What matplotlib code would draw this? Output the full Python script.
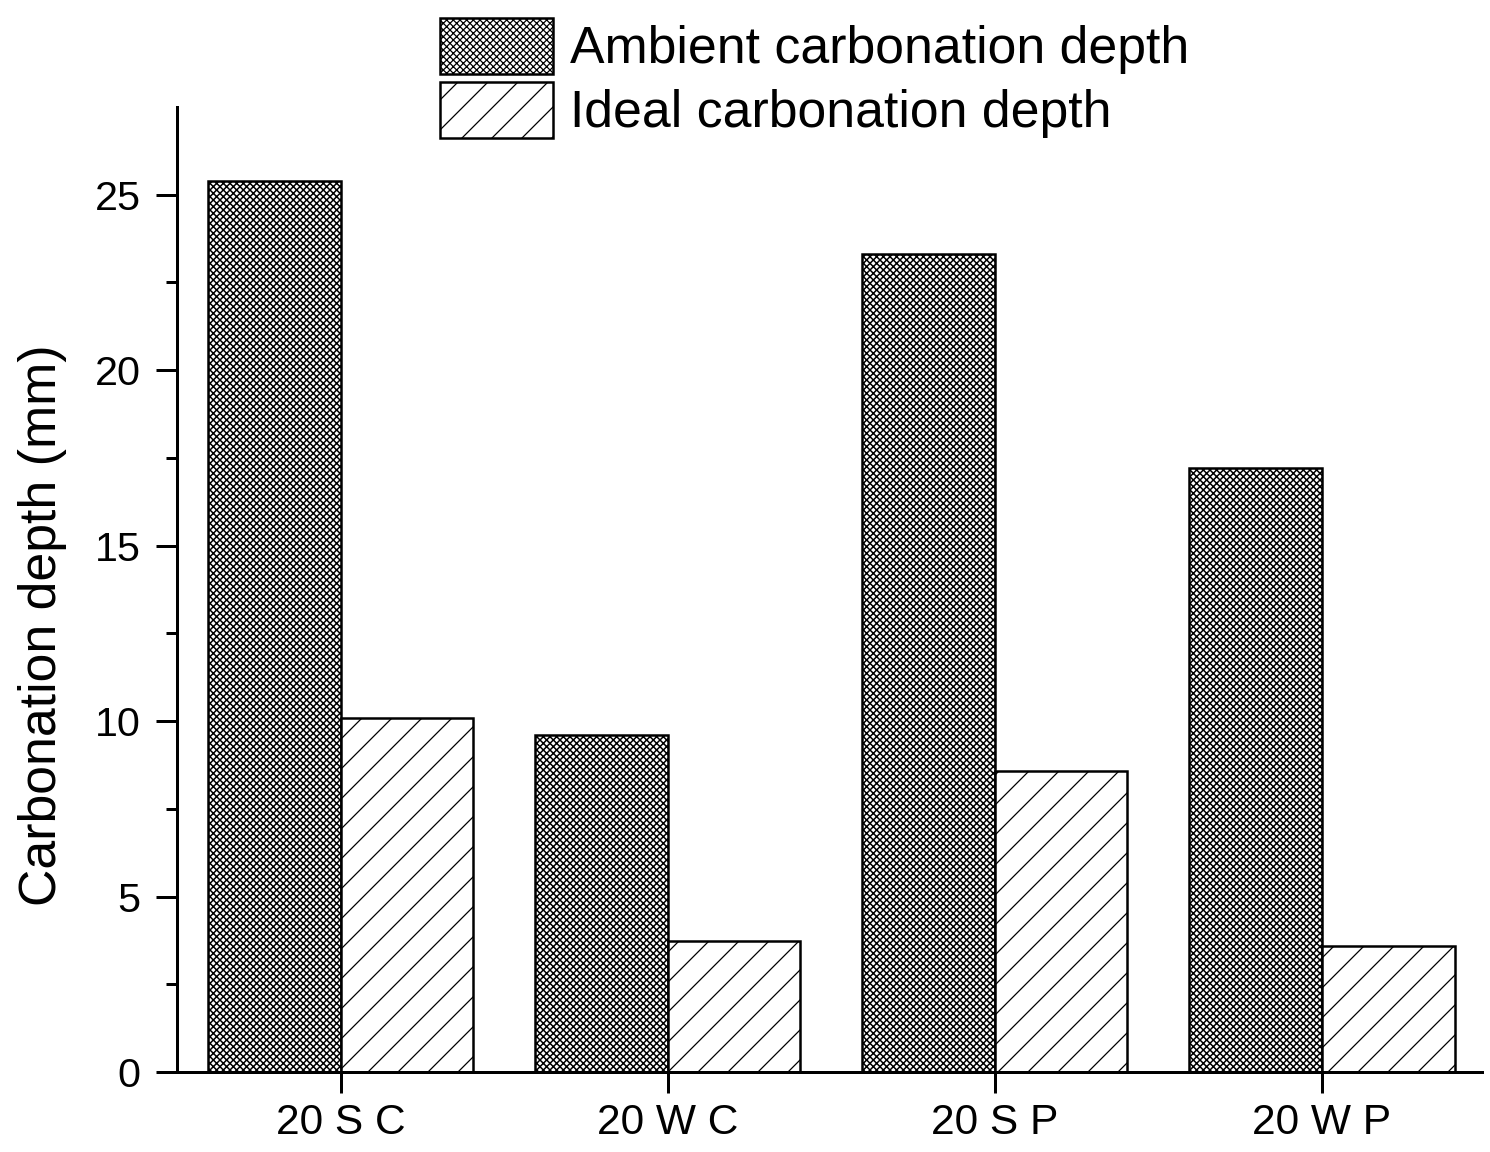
import numpy as np
from matplotlib import pyplot as plt

# data
groups = ["20 S C", "20 W C", "20 S P", "20 W P"]
ambient = [25.4, 9.6, 23.3, 17.2]
ideal = [10.1, 3.73, 8.57, 3.59]
yticks = [0, 5, 10, 15, 20, 25]

plt.rcParams['font.family'] = ['Liberation Sans', 'DejaVu Sans']
plt.rcParams['hatch.color'] = 'black'

# dpi 180 so the hatch tile is coarse enough for the '//' pattern
dpi = 180
fig = plt.figure(figsize=(1490 / dpi, 1152 / dpi), dpi=dpi)
ax = fig.add_axes([177 / 1490, 1 - 1072 / 1152, 1305 / 1490, 965 / 1152])

x = np.arange(len(groups))
w = 0.406
plt.rcParams['hatch.linewidth'] = 0.6
ax.bar(x - w / 2, ambient, w, facecolor='white', edgecolor='black', linewidth=1.0,
       hatch='x' * 9, label='Ambient carbonation depth')
plt.rcParams['hatch.linewidth'] = 0.5
ax.bar(x + w / 2, ideal, w, facecolor='white', edgecolor='black', linewidth=1.0,
       hatch='//', label='Ideal carbonation depth')

ax.set_xlim(-0.5, 3.49)
ax.set_ylim(0, 27.5)
ax.set_xticks(x)
ax.set_xticklabels(groups, fontsize=17)
ax.set_yticks(yticks)
ax.set_yticklabels([str(v) for v in yticks], fontsize=16.5)
ax.set_yticks(np.arange(2.5, 27.5, 5), minor=True)
ax.tick_params(axis='both', which='major', direction='out', length=8.5, width=1.2, pad=4)
ax.tick_params(axis='y', which='major', pad=6)
ax.tick_params(axis='y', which='minor', direction='out', length=4.3, width=1.2)
ax.set_ylabel("Carbonation depth (mm)", fontsize=20.7)
ax.yaxis.set_label_coords(-0.084, 0.463)

for s in ['top', 'right']:
    ax.spines[s].set_visible(False)
for s in ['left', 'bottom']:
    ax.spines[s].set_linewidth(1.2)

ax.legend(loc='upper left', bbox_to_anchor=(440 / 1490, 1 - 18 / 1152),
          bbox_transform=fig.transFigure, frameon=False, fontsize=20.7,
          borderpad=0, borderaxespad=0, handlelength=2.19, handleheight=1.28,
          handletextpad=0.33, labelspacing=0.15)

fig.savefig("out.png", dpi=dpi)
